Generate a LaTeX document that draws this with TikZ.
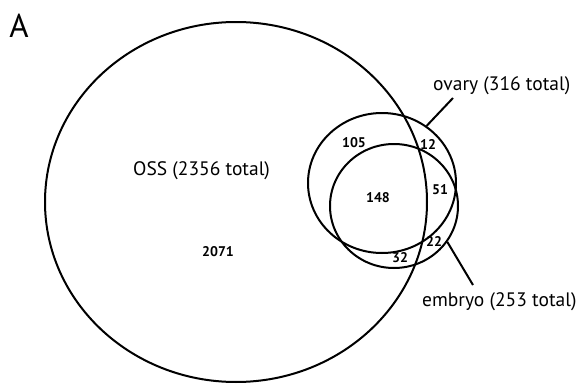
\documentclass[tikz,border=0pt]{standalone}
\usepackage{fontspec}
\setmainfont{PT Sans}
\usepackage{tikz}
\usetikzlibrary{shapes.geometric}

\begin{document}
\begin{tikzpicture}[
    x=1pt, y=-1pt,
    venn/.style={draw, ellipse, line width=2pt, inner sep=0pt},
    cnt/.style={font=\fontsize{14}{16}\selectfont\bfseries},
    lbl/.style={anchor=west, inner sep=0pt, font=\fontsize{19.5}{22}\selectfont},
    lead/.style={line width=2pt},
  ]
  \useasboundingbox (0,0) rectangle (579,388);
  \node[font=\fontsize{33}{36}\selectfont] (panel) at (19,26) {A};
  % the three sets
  \node[venn, minimum width=382pt, minimum height=360pt] (oss)    at (236,202) {};
  \node[venn, minimum width=148pt, minimum height=140pt] (ovary)  at (382,183) {};
  \node[venn, minimum width=128pt, minimum height=124pt] (embryo) at (394,206) {};
  \node[lbl] (osslbl) at (133,171) {OSS (2356 total)};
  \node[lbl] (ovlbl)  at (433,86)  {ovary (316 total)};
  \node[lbl] (emlbl)  at (422,302) {embryo (253 total)};
  \coordinate (ovtip) at (453,98);
  \coordinate (emtip) at (473,285);
  \draw[lead] (ovary.52)   -- (ovtip);
  \draw[lead] (embryo.-34) -- (emtip);
  % counts
  \node[cnt] (n2071) at (218,252) {2071};
  \node[cnt] (n105)  at (354,143) {105};
  \node[cnt] (n12)   at (428,145) {12};
  \node[cnt] (n148)  at (378,198) {148};
  \node[cnt] (n51)   at (440,190) {51};
  \node[cnt] (n22)   at (434,242) {22};
  \node[cnt] (n32)   at (400,258) {32};
\end{tikzpicture}
\end{document}
